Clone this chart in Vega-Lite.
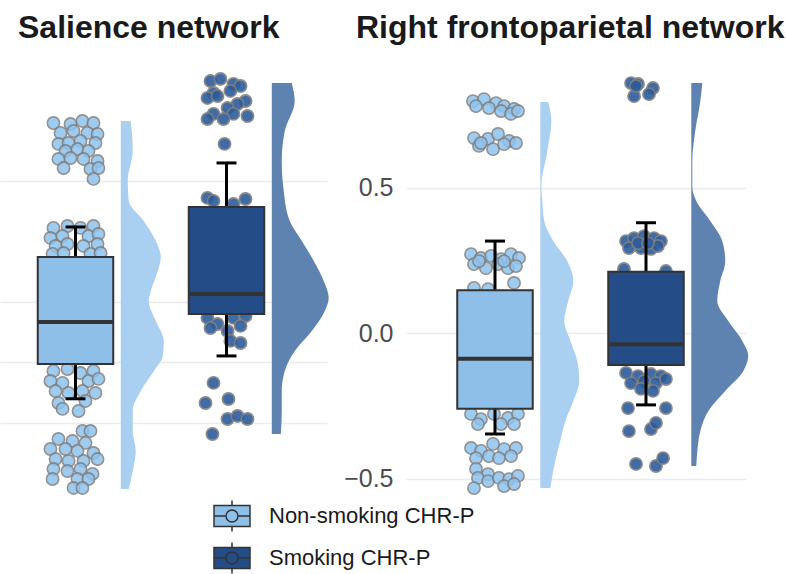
{
  "$schema": "https://vega.github.io/schema/vega-lite/v6.json",
  "background": "white",
  "padding": {"top": 12, "left": 0, "right": 0, "bottom": 0},
  "spacing": 14,
  "datasets": {
    "box": [
      {"n": "SN", "g": "Non-smoking CHR-P", "lo": -0.8, "q1": -0.512, "med": -0.165, "q3": 0.372, "hi": 0.62},
      {"n": "SN", "g": "Smoking CHR-P", "lo": -0.446, "q1": -0.099, "med": 0.066, "q3": 0.785, "hi": 1.149},
      {"n": "RF", "g": "Non-smoking CHR-P", "lo": -0.347, "q1": -0.26, "med": -0.088, "q3": 0.147, "hi": 0.316},
      {"n": "RF", "g": "Smoking CHR-P", "lo": -0.247, "q1": -0.11, "med": -0.039, "q3": 0.211, "hi": 0.379}
    ],
    "dens": [
      {"n":"SN","g":"N","v":1.496,"d":0.066},{"n":"SN","g":"N","v":1.248,"d":0.079},{"n":"SN","g":"N","v":1.0,"d":0.046},{"n":"SN","g":"N","v":0.835,"d":0.053},{"n":"SN","g":"N","v":0.669,"d":0.152},{"n":"SN","g":"N","v":0.504,"d":0.232},{"n":"SN","g":"N","v":0.372,"d":0.265},{"n":"SN","g":"N","v":0.256,"d":0.245},{"n":"SN","g":"N","v":0.091,"d":0.199},{"n":"SN","g":"N","v":0.008,"d":0.185},{"n":"SN","g":"N","v":-0.157,"d":0.232},{"n":"SN","g":"N","v":-0.322,"d":0.285},{"n":"SN","g":"N","v":-0.446,"d":0.278},{"n":"SN","g":"N","v":-0.57,"d":0.219},{"n":"SN","g":"N","v":-0.736,"d":0.132},{"n":"SN","g":"N","v":-0.901,"d":0.079},{"n":"SN","g":"N","v":-1.066,"d":0.079},{"n":"SN","g":"N","v":-1.231,"d":0.099},{"n":"SN","g":"N","v":-1.397,"d":0.079},{"n":"SN","g":"N","v":-1.545,"d":0.053},
      {"n":"SN","g":"S","v":1.81,"d":0.132},{"n":"SN","g":"S","v":1.661,"d":0.152},{"n":"SN","g":"S","v":1.413,"d":0.086},{"n":"SN","g":"S","v":1.165,"d":0.066},{"n":"SN","g":"S","v":0.917,"d":0.079},{"n":"SN","g":"S","v":0.669,"d":0.119},{"n":"SN","g":"S","v":0.504,"d":0.199},{"n":"SN","g":"S","v":0.339,"d":0.278},{"n":"SN","g":"S","v":0.174,"d":0.344},{"n":"SN","g":"S","v":0.033,"d":0.377},{"n":"SN","g":"S","v":-0.074,"d":0.351},{"n":"SN","g":"S","v":-0.24,"d":0.265},{"n":"SN","g":"S","v":-0.405,"d":0.152},{"n":"SN","g":"S","v":-0.57,"d":0.086},{"n":"SN","g":"S","v":-0.736,"d":0.066},{"n":"SN","g":"S","v":-0.901,"d":0.066},{"n":"SN","g":"S","v":-1.091,"d":0.06},
      {"n":"RF","g":"N","v":0.794,"d":0.053},{"n":"RF","g":"N","v":0.729,"d":0.073},{"n":"RF","g":"N","v":0.625,"d":0.046},{"n":"RF","g":"N","v":0.502,"d":0.007},{"n":"RF","g":"N","v":0.454,"d":0.013},{"n":"RF","g":"N","v":0.385,"d":0.026},{"n":"RF","g":"N","v":0.316,"d":0.086},{"n":"RF","g":"N","v":0.247,"d":0.179},{"n":"RF","g":"N","v":0.179,"d":0.219},{"n":"RF","g":"N","v":0.11,"d":0.185},{"n":"RF","g":"N","v":0.041,"d":0.159},{"n":"RF","g":"N","v":-0.027,"d":0.199},{"n":"RF","g":"N","v":-0.096,"d":0.245},{"n":"RF","g":"N","v":-0.165,"d":0.258},{"n":"RF","g":"N","v":-0.234,"d":0.219},{"n":"RF","g":"N","v":-0.302,"d":0.166},{"n":"RF","g":"N","v":-0.371,"d":0.132},{"n":"RF","g":"N","v":-0.44,"d":0.099},{"n":"RF","g":"N","v":-0.533,"d":0.066},
      {"n":"RF","g":"S","v":0.859,"d":0.073},{"n":"RF","g":"S","v":0.797,"d":0.06},{"n":"RF","g":"S","v":0.694,"d":0.026},{"n":"RF","g":"S","v":0.591,"d":0.007},{"n":"RF","g":"S","v":0.502,"d":0.007},{"n":"RF","g":"S","v":0.454,"d":0.033},{"n":"RF","g":"S","v":0.385,"d":0.126},{"n":"RF","g":"S","v":0.316,"d":0.205},{"n":"RF","g":"S","v":0.247,"d":0.225},{"n":"RF","g":"S","v":0.179,"d":0.192},{"n":"RF","g":"S","v":0.11,"d":0.172},{"n":"RF","g":"S","v":0.041,"d":0.245},{"n":"RF","g":"S","v":-0.027,"d":0.338},{"n":"RF","g":"S","v":-0.079,"d":0.377},{"n":"RF","g":"S","v":-0.131,"d":0.344},{"n":"RF","g":"S","v":-0.199,"d":0.225},{"n":"RF","g":"S","v":-0.268,"d":0.113},{"n":"RF","g":"S","v":-0.337,"d":0.06},{"n":"RF","g":"S","v":-0.405,"d":0.04},{"n":"RF","g":"S","v":-0.457,"d":0.033}
    ],
    "pts": [
      {"n":"SN","g":"N","j":-0.146,"v":1.479},{"n":"SN","g":"N","j":-0.033,"v":1.471},{"n":"SN","g":"N","j":0.046,"v":1.496},{"n":"SN","g":"N","j":0.119,"v":1.479},{"n":"SN","g":"N","j":-0.099,"v":1.397},{"n":"SN","g":"N","j":-0.013,"v":1.413},{"n":"SN","g":"N","j":0.079,"v":1.397},{"n":"SN","g":"N","j":0.146,"v":1.388},{"n":"SN","g":"N","j":-0.113,"v":1.306},{"n":"SN","g":"N","j":-0.046,"v":1.314},{"n":"SN","g":"N","j":0.033,"v":1.331},{"n":"SN","g":"N","j":0.132,"v":1.314},{"n":"SN","g":"N","j":-0.066,"v":1.248},{"n":"SN","g":"N","j":0.013,"v":1.264},{"n":"SN","g":"N","j":0.086,"v":1.248},{"n":"SN","g":"N","j":-0.113,"v":1.182},{"n":"SN","g":"N","j":-0.033,"v":1.19},{"n":"SN","g":"N","j":0.053,"v":1.182},{"n":"SN","g":"N","j":0.146,"v":1.165},{"n":"SN","g":"N","j":-0.079,"v":1.107},{"n":"SN","g":"N","j":0.099,"v":1.099},{"n":"SN","g":"N","j":0.152,"v":1.107},{"n":"SN","g":"N","j":0.119,"v":1.017},
      {"n":"SN","g":"N","j":-0.146,"v":0.612},{"n":"SN","g":"N","j":-0.053,"v":0.628},{"n":"SN","g":"N","j":0.033,"v":0.612},{"n":"SN","g":"N","j":0.119,"v":0.628},{"n":"SN","g":"N","j":-0.166,"v":0.529},{"n":"SN","g":"N","j":-0.086,"v":0.545},{"n":"SN","g":"N","j":0.086,"v":0.545},{"n":"SN","g":"N","j":0.152,"v":0.562},{"n":"SN","g":"N","j":-0.132,"v":0.463},{"n":"SN","g":"N","j":-0.053,"v":0.479},{"n":"SN","g":"N","j":0.053,"v":0.463},{"n":"SN","g":"N","j":0.146,"v":0.479},{"n":"SN","g":"N","j":-0.152,"v":0.397},{"n":"SN","g":"N","j":-0.079,"v":0.405},{"n":"SN","g":"N","j":0.099,"v":0.397},{"n":"SN","g":"N","j":0.166,"v":0.405},
      {"n":"SN","g":"N","j":-0.1,"v":0.25},{"n":"SN","g":"N","j":0.05,"v":0.1},{"n":"SN","g":"N","j":0.12,"v":-0.05},{"n":"SN","g":"N","j":-0.06,"v":-0.2},{"n":"SN","g":"N","j":0.08,"v":-0.35},{"n":"SN","g":"N","j":-0.13,"v":-0.45},
      {"n":"SN","g":"N","j":-0.146,"v":-0.57},{"n":"SN","g":"N","j":-0.053,"v":-0.554},{"n":"SN","g":"N","j":0.033,"v":-0.587},{"n":"SN","g":"N","j":0.119,"v":-0.57},{"n":"SN","g":"N","j":-0.166,"v":-0.653},{"n":"SN","g":"N","j":-0.086,"v":-0.669},{"n":"SN","g":"N","j":0.086,"v":-0.653},{"n":"SN","g":"N","j":0.152,"v":-0.636},{"n":"SN","g":"N","j":-0.132,"v":-0.736},{"n":"SN","g":"N","j":-0.046,"v":-0.752},{"n":"SN","g":"N","j":0.046,"v":-0.736},{"n":"SN","g":"N","j":0.132,"v":-0.752},{"n":"SN","g":"N","j":-0.113,"v":-0.835},{"n":"SN","g":"N","j":0.066,"v":-0.818},{"n":"SN","g":"N","j":-0.086,"v":-0.884},{"n":"SN","g":"N","j":0.02,"v":-0.901},
      {"n":"SN","g":"N","j":0.046,"v":-1.066},{"n":"SN","g":"N","j":0.099,"v":-1.066},{"n":"SN","g":"N","j":-0.113,"v":-1.132},{"n":"SN","g":"N","j":-0.02,"v":-1.149},{"n":"SN","g":"N","j":0.066,"v":-1.165},{"n":"SN","g":"N","j":-0.166,"v":-1.215},{"n":"SN","g":"N","j":-0.066,"v":-1.215},{"n":"SN","g":"N","j":0.013,"v":-1.231},{"n":"SN","g":"N","j":0.119,"v":-1.248},{"n":"SN","g":"N","j":-0.132,"v":-1.298},{"n":"SN","g":"N","j":-0.046,"v":-1.314},{"n":"SN","g":"N","j":0.053,"v":-1.314},{"n":"SN","g":"N","j":0.146,"v":-1.298},{"n":"SN","g":"N","j":-0.146,"v":-1.38},{"n":"SN","g":"N","j":-0.053,"v":-1.397},{"n":"SN","g":"N","j":0.033,"v":-1.38},{"n":"SN","g":"N","j":0.113,"v":-1.421},{"n":"SN","g":"N","j":-0.152,"v":-1.463},{"n":"SN","g":"N","j":0.013,"v":-1.463},{"n":"SN","g":"N","j":0.086,"v":-1.463},{"n":"SN","g":"N","j":-0.013,"v":-1.537},{"n":"SN","g":"N","j":0.046,"v":-1.537},
      {"n":"SN","g":"S","j":-0.106,"v":1.826},{"n":"SN","g":"S","j":-0.04,"v":1.843},{"n":"SN","g":"S","j":0.046,"v":1.802},{"n":"SN","g":"S","j":0.093,"v":1.785},{"n":"SN","g":"S","j":-0.086,"v":1.727},{"n":"SN","g":"S","j":0.026,"v":1.744},{"n":"SN","g":"S","j":-0.126,"v":1.686},{"n":"SN","g":"S","j":-0.06,"v":1.702},{"n":"SN","g":"S","j":0.126,"v":1.661},{"n":"SN","g":"S","j":0.073,"v":1.636},{"n":"SN","g":"S","j":0.007,"v":1.603},{"n":"SN","g":"S","j":-0.086,"v":1.554},{"n":"SN","g":"S","j":0.046,"v":1.554},{"n":"SN","g":"S","j":0.139,"v":1.537},{"n":"SN","g":"S","j":-0.126,"v":1.512},{"n":"SN","g":"S","j":-0.02,"v":1.512},
      {"n":"SN","g":"S","j":-0.013,"v":1.306},
      {"n":"SN","g":"S","j":-0.126,"v":0.86},{"n":"SN","g":"S","j":-0.086,"v":0.835},{"n":"SN","g":"S","j":0.126,"v":0.851},{"n":"SN","g":"S","j":0.046,"v":0.81},
      {"n":"SN","g":"S","j":-0.05,"v":0.6},{"n":"SN","g":"S","j":0.1,"v":0.4},{"n":"SN","g":"S","j":-0.12,"v":0.2},{"n":"SN","g":"S","j":0.03,"v":0.0},
      {"n":"SN","g":"S","j":-0.126,"v":-0.132},{"n":"SN","g":"S","j":-0.06,"v":-0.182},{"n":"SN","g":"S","j":0.046,"v":-0.132},{"n":"SN","g":"S","j":0.126,"v":-0.116},{"n":"SN","g":"S","j":-0.106,"v":-0.215},{"n":"SN","g":"S","j":0.007,"v":-0.24},{"n":"SN","g":"S","j":0.093,"v":-0.198},{"n":"SN","g":"S","j":0.026,"v":-0.322},{"n":"SN","g":"S","j":0.093,"v":-0.339},
      {"n":"SN","g":"S","j":-0.086,"v":-0.669},{"n":"SN","g":"S","j":-0.139,"v":-0.835},{"n":"SN","g":"S","j":0.013,"v":-0.802},{"n":"SN","g":"S","j":0.007,"v":-0.967},{"n":"SN","g":"S","j":0.073,"v":-0.942},{"n":"SN","g":"S","j":0.139,"v":-0.967},{"n":"SN","g":"S","j":-0.093,"v":-1.091},
      {"n":"RF","g":"N","j":-0.146,"v":0.797},{"n":"RF","g":"N","j":-0.073,"v":0.804},{"n":"RF","g":"N","j":0.007,"v":0.79},{"n":"RF","g":"N","j":0.06,"v":0.78},{"n":"RF","g":"N","j":0.126,"v":0.77},{"n":"RF","g":"N","j":-0.126,"v":0.78},{"n":"RF","g":"N","j":-0.04,"v":0.773},{"n":"RF","g":"N","j":0.04,"v":0.763},{"n":"RF","g":"N","j":0.106,"v":0.753},{"n":"RF","g":"N","j":0.152,"v":0.763},
      {"n":"RF","g":"N","j":-0.139,"v":0.67},{"n":"RF","g":"N","j":-0.046,"v":0.667},{"n":"RF","g":"N","j":0.02,"v":0.684},{"n":"RF","g":"N","j":0.093,"v":0.66},{"n":"RF","g":"N","j":0.139,"v":0.653},{"n":"RF","g":"N","j":-0.106,"v":0.643},{"n":"RF","g":"N","j":-0.013,"v":0.632},{"n":"RF","g":"N","j":0.06,"v":0.649},{"n":"RF","g":"N","j":-0.093,"v":0.653},
      {"n":"RF","g":"N","j":-0.159,"v":0.271},{"n":"RF","g":"N","j":-0.093,"v":0.258},{"n":"RF","g":"N","j":-0.026,"v":0.265},{"n":"RF","g":"N","j":0.04,"v":0.254},{"n":"RF","g":"N","j":0.106,"v":0.271},{"n":"RF","g":"N","j":0.159,"v":0.258},{"n":"RF","g":"N","j":-0.139,"v":0.237},{"n":"RF","g":"N","j":-0.06,"v":0.223},{"n":"RF","g":"N","j":0.02,"v":0.237},{"n":"RF","g":"N","j":0.086,"v":0.223},{"n":"RF","g":"N","j":0.139,"v":0.23},{"n":"RF","g":"N","j":-0.106,"v":0.247},{"n":"RF","g":"N","j":0.06,"v":0.247},
      {"n":"RF","g":"N","j":-0.139,"v":0.155},{"n":"RF","g":"N","j":0.126,"v":0.172},{"n":"RF","g":"N","j":-0.046,"v":0.151},
      {"n":"RF","g":"N","j":0.05,"v":0.05},{"n":"RF","g":"N","j":-0.1,"v":-0.1},{"n":"RF","g":"N","j":0.1,"v":-0.2},
      {"n":"RF","g":"N","j":-0.159,"v":-0.278},{"n":"RF","g":"N","j":-0.093,"v":-0.296},{"n":"RF","g":"N","j":-0.007,"v":-0.278},{"n":"RF","g":"N","j":0.086,"v":-0.292},{"n":"RF","g":"N","j":0.152,"v":-0.278},{"n":"RF","g":"N","j":-0.113,"v":-0.313},{"n":"RF","g":"N","j":0.04,"v":-0.313},{"n":"RF","g":"N","j":0.126,"v":-0.313},
      {"n":"RF","g":"N","j":-0.159,"v":-0.395},{"n":"RF","g":"N","j":-0.093,"v":-0.405},{"n":"RF","g":"N","j":-0.013,"v":-0.381},{"n":"RF","g":"N","j":0.06,"v":-0.399},{"n":"RF","g":"N","j":0.139,"v":-0.395},{"n":"RF","g":"N","j":-0.126,"v":-0.43},{"n":"RF","g":"N","j":-0.04,"v":-0.423},{"n":"RF","g":"N","j":0.026,"v":-0.43},{"n":"RF","g":"N","j":0.106,"v":-0.423},
      {"n":"RF","g":"N","j":-0.126,"v":-0.467},{"n":"RF","g":"N","j":-0.046,"v":-0.485},
      {"n":"RF","g":"N","j":-0.113,"v":-0.498},{"n":"RF","g":"N","j":-0.046,"v":-0.509},{"n":"RF","g":"N","j":0.026,"v":-0.498},{"n":"RF","g":"N","j":0.093,"v":-0.502},{"n":"RF","g":"N","j":0.152,"v":-0.491},{"n":"RF","g":"N","j":-0.139,"v":-0.533},{"n":"RF","g":"N","j":0.06,"v":-0.526},{"n":"RF","g":"N","j":0.126,"v":-0.519},
      {"n":"RF","g":"S","j":-0.099,"v":0.859},{"n":"RF","g":"S","j":-0.053,"v":0.856},{"n":"RF","g":"S","j":0.046,"v":0.842},{"n":"RF","g":"S","j":-0.079,"v":0.814},{"n":"RF","g":"S","j":0.02,"v":0.821},{"n":"RF","g":"S","j":-0.066,"v":0.849},
      {"n":"RF","g":"S","j":-0.132,"v":0.316},{"n":"RF","g":"S","j":-0.079,"v":0.326},{"n":"RF","g":"S","j":-0.013,"v":0.333},{"n":"RF","g":"S","j":0.053,"v":0.326},{"n":"RF","g":"S","j":0.099,"v":0.316},{"n":"RF","g":"S","j":-0.113,"v":0.292},{"n":"RF","g":"S","j":-0.033,"v":0.292},{"n":"RF","g":"S","j":0.033,"v":0.289},{"n":"RF","g":"S","j":0.079,"v":0.299},{"n":"RF","g":"S","j":-0.053,"v":0.309},{"n":"RF","g":"S","j":0.013,"v":0.309},
      {"n":"RF","g":"S","j":-0.146,"v":0.22},{"n":"RF","g":"S","j":0.132,"v":0.213},
      {"n":"RF","g":"S","j":0.0,"v":0.1},{"n":"RF","g":"S","j":-0.08,"v":0.0},{"n":"RF","g":"S","j":0.07,"v":-0.05},
      {"n":"RF","g":"S","j":-0.132,"v":-0.137},{"n":"RF","g":"S","j":-0.053,"v":-0.148},{"n":"RF","g":"S","j":0.033,"v":-0.141},{"n":"RF","g":"S","j":0.099,"v":-0.148},{"n":"RF","g":"S","j":-0.099,"v":-0.172},{"n":"RF","g":"S","j":-0.013,"v":-0.165},{"n":"RF","g":"S","j":0.066,"v":-0.172},{"n":"RF","g":"S","j":0.132,"v":-0.158},{"n":"RF","g":"S","j":-0.033,"v":-0.192},{"n":"RF","g":"S","j":0.046,"v":-0.199},
      {"n":"RF","g":"S","j":-0.119,"v":-0.258},{"n":"RF","g":"S","j":0.132,"v":-0.258},
      {"n":"RF","g":"S","j":-0.113,"v":-0.337},{"n":"RF","g":"S","j":0.033,"v":-0.33},{"n":"RF","g":"S","j":0.066,"v":-0.309},
      {"n":"RF","g":"S","j":-0.066,"v":-0.45},{"n":"RF","g":"S","j":0.066,"v":-0.457},{"n":"RF","g":"S","j":0.113,"v":-0.43}
    ]
  },
  "hconcat": [
    {
      "title": {"text": "Salience network", "dx": 18},
      "width": 327,
      "height": 435,
      "resolve": {"scale": {"x": "independent"}},
      "layer": [
        {
          "data": {"name": "dens"},
          "transform": [{"filter": "datum.n == 'SN' && datum.g == 'N'"}],
          "mark": {"type": "area", "orient": "horizontal", "interpolate": "monotone", "color": "#A9CFF1"},
          "encoding": {
            "x": {"field": "d", "type": "quantitative", "stack": null, "scale": {"domain": [-0.8, 1.3656], "nice": false, "zero": false}, "axis": null},
            "x2": {"datum": 0},
            "y": {"field": "v", "type": "quantitative", "scale": {"domain": [-1.62, 1.975], "nice": false, "zero": false}, "axis": {"values": [-1, -0.5, 0, 1], "labels": false}, "title": null}
          }
        },
        {
          "data": {"name": "dens"},
          "transform": [{"filter": "datum.n == 'SN' && datum.g == 'S'"}],
          "mark": {"type": "area", "orient": "horizontal", "interpolate": "monotone", "color": "#5F83B0"},
          "encoding": {
            "x": {"field": "d", "type": "quantitative", "stack": null, "scale": {"domain": [-1.8, 0.3656], "nice": false, "zero": false}, "axis": null},
            "x2": {"datum": 0},
            "y": {"field": "v", "type": "quantitative", "scale": {"domain": [-1.62, 1.975], "nice": false, "zero": false}, "axis": {"values": [-1, -0.5, 0, 1], "labels": false}, "title": null}
          }
        },
        {
          "layer": [
            {
              "data": {"name": "pts"},
              "transform": [{"filter": "datum.n == 'SN' && datum.g == 'N'"}],
              "mark": {"type": "circle", "size": 150, "fill": "#8EC2EE", "stroke": "#7F7F7F", "strokeWidth": 1.6, "opacity": 0.85},
              "encoding": {
                "x": {"field": "j", "type": "quantitative", "scale": {"domain": [-0.5, 1.6656], "nice": false, "zero": false}, "axis": null},
                "y": {"field": "v", "type": "quantitative", "scale": {"domain": [-1.62, 1.975], "nice": false, "zero": false}, "axis": {"values": [-1, -0.5, 0, 1], "labels": false}, "title": null}
              }
            },
            {
              "data": {"name": "box"},
              "transform": [{"filter": "datum.n == 'SN' && datum.g == 'Non-smoking CHR-P'"}],
              "layer": [
                {
                  "mark": {"type": "rule", "color": "#000000", "strokeWidth": 3},
                  "encoding": {
                    "x": {"datum": 0, "type": "quantitative", "scale": {"domain": [-0.5, 1.6656], "nice": false, "zero": false}, "axis": null},
                    "y": {"field": "lo", "type": "quantitative", "scale": {"domain": [-1.62, 1.975], "nice": false, "zero": false}, "axis": {"values": [-1, -0.5, 0, 1], "labels": false}, "title": null},
                    "y2": {"field": "hi"}
                  }
                },
                {
                  "mark": {"type": "rect", "stroke": "#333333", "strokeWidth": 2},
                  "encoding": {
                    "x": {"datum": -0.25, "type": "quantitative", "scale": {"domain": [-0.5, 1.6656], "nice": false, "zero": false}, "axis": null},
                    "x2": {"datum": 0.25},
                    "y": {"field": "q1", "type": "quantitative", "scale": {"domain": [-1.62, 1.975], "nice": false, "zero": false}, "axis": {"values": [-1, -0.5, 0, 1], "labels": false}, "title": null},
                    "y2": {"field": "q3"},
                    "color": {"field": "g", "type": "nominal", "scale": {"domain": ["Non-smoking CHR-P", "Smoking CHR-P"], "range": ["#8EBFE9", "#244C86"]}, "legend": {"orient": "none", "legendX": 216, "legendY": 437, "direction": "vertical", "title": null}}
                  }
                },
                {
                  "mark": {"type": "rule", "color": "#333333", "strokeWidth": 4},
                  "encoding": {
                    "x": {"datum": -0.25, "type": "quantitative", "scale": {"domain": [-0.5, 1.6656], "nice": false, "zero": false}, "axis": null},
                    "x2": {"datum": 0.25},
                    "y": {"field": "med", "type": "quantitative", "scale": {"domain": [-1.62, 1.975], "nice": false, "zero": false}, "axis": {"values": [-1, -0.5, 0, 1], "labels": false}, "title": null}
                  }
                },
                {
                  "mark": {"type": "rule", "color": "#000000", "strokeWidth": 3},
                  "encoding": {
                    "x": {"datum": -0.066, "type": "quantitative", "scale": {"domain": [-0.5, 1.6656], "nice": false, "zero": false}, "axis": null},
                    "x2": {"datum": 0.066},
                    "y": {"field": "lo", "type": "quantitative", "scale": {"domain": [-1.62, 1.975], "nice": false, "zero": false}, "axis": {"values": [-1, -0.5, 0, 1], "labels": false}, "title": null}
                  }
                },
                {
                  "mark": {"type": "rule", "color": "#000000", "strokeWidth": 3},
                  "encoding": {
                    "x": {"datum": -0.066, "type": "quantitative", "scale": {"domain": [-0.5, 1.6656], "nice": false, "zero": false}, "axis": null},
                    "x2": {"datum": 0.066},
                    "y": {"field": "hi", "type": "quantitative", "scale": {"domain": [-1.62, 1.975], "nice": false, "zero": false}, "axis": {"values": [-1, -0.5, 0, 1], "labels": false}, "title": null}
                  }
                }
              ]
            }
          ]
        },
        {
          "layer": [
            {
              "data": {"name": "pts"},
              "transform": [{"filter": "datum.n == 'SN' && datum.g == 'S'"}],
              "mark": {"type": "circle", "size": 150, "fill": "#2C5B9B", "stroke": "#7F7F7F", "strokeWidth": 1.6, "opacity": 0.9},
              "encoding": {
                "x": {"field": "j", "type": "quantitative", "scale": {"domain": [-1.5, 0.6656], "nice": false, "zero": false}, "axis": null},
                "y": {"field": "v", "type": "quantitative", "scale": {"domain": [-1.62, 1.975], "nice": false, "zero": false}, "axis": {"values": [-1, -0.5, 0, 1], "labels": false}, "title": null}
              }
            },
            {
              "data": {"name": "box"},
              "transform": [{"filter": "datum.n == 'SN' && datum.g == 'Smoking CHR-P'"}],
              "layer": [
                {
                  "mark": {"type": "rule", "color": "#000000", "strokeWidth": 3},
                  "encoding": {
                    "x": {"datum": 0, "type": "quantitative", "scale": {"domain": [-1.5, 0.6656], "nice": false, "zero": false}, "axis": null},
                    "y": {"field": "lo", "type": "quantitative", "scale": {"domain": [-1.62, 1.975], "nice": false, "zero": false}, "axis": {"values": [-1, -0.5, 0, 1], "labels": false}, "title": null},
                    "y2": {"field": "hi"}
                  }
                },
                {
                  "mark": {"type": "rect", "stroke": "#333333", "strokeWidth": 2},
                  "encoding": {
                    "x": {"datum": -0.25, "type": "quantitative", "scale": {"domain": [-1.5, 0.6656], "nice": false, "zero": false}, "axis": null},
                    "x2": {"datum": 0.25},
                    "y": {"field": "q1", "type": "quantitative", "scale": {"domain": [-1.62, 1.975], "nice": false, "zero": false}, "axis": {"values": [-1, -0.5, 0, 1], "labels": false}, "title": null},
                    "y2": {"field": "q3"},
                    "color": {"field": "g", "type": "nominal", "scale": {"domain": ["Non-smoking CHR-P", "Smoking CHR-P"], "range": ["#8EBFE9", "#244C86"]}, "legend": {"orient": "none", "legendX": 216, "legendY": 437, "direction": "vertical", "title": null}}
                  }
                },
                {
                  "mark": {"type": "rule", "color": "#333333", "strokeWidth": 4},
                  "encoding": {
                    "x": {"datum": -0.25, "type": "quantitative", "scale": {"domain": [-1.5, 0.6656], "nice": false, "zero": false}, "axis": null},
                    "x2": {"datum": 0.25},
                    "y": {"field": "med", "type": "quantitative", "scale": {"domain": [-1.62, 1.975], "nice": false, "zero": false}, "axis": {"values": [-1, -0.5, 0, 1], "labels": false}, "title": null}
                  }
                },
                {
                  "mark": {"type": "rule", "color": "#000000", "strokeWidth": 3},
                  "encoding": {
                    "x": {"datum": -0.066, "type": "quantitative", "scale": {"domain": [-1.5, 0.6656], "nice": false, "zero": false}, "axis": null},
                    "x2": {"datum": 0.066},
                    "y": {"field": "lo", "type": "quantitative", "scale": {"domain": [-1.62, 1.975], "nice": false, "zero": false}, "axis": {"values": [-1, -0.5, 0, 1], "labels": false}, "title": null}
                  }
                },
                {
                  "mark": {"type": "rule", "color": "#000000", "strokeWidth": 3},
                  "encoding": {
                    "x": {"datum": -0.066, "type": "quantitative", "scale": {"domain": [-1.5, 0.6656], "nice": false, "zero": false}, "axis": null},
                    "x2": {"datum": 0.066},
                    "y": {"field": "hi", "type": "quantitative", "scale": {"domain": [-1.62, 1.975], "nice": false, "zero": false}, "axis": {"values": [-1, -0.5, 0, 1], "labels": false}, "title": null}
                  }
                }
              ]
            }
          ]
        }
      ]
    },
    {
      "title": {"text": "Right frontoparietal network", "dx": -50},
      "width": 340,
      "height": 435,
      "resolve": {"scale": {"x": "independent"}},
      "layer": [
        {
          "data": {"name": "dens"},
          "transform": [{"filter": "datum.n == 'RF' && datum.g == 'N'"}],
          "mark": {"type": "area", "orient": "horizontal", "interpolate": "monotone", "color": "#A9CFF1"},
          "encoding": {
            "x": {"field": "d", "type": "quantitative", "stack": null, "scale": {"domain": [-0.8894, 1.3623], "nice": false, "zero": false}, "axis": null},
            "x2": {"datum": 0},
            "y": {"field": "v", "type": "quantitative", "scale": {"domain": [-0.567, 0.928], "nice": false, "zero": false}, "axis": {"values": [-0.5, 0, 0.5], "format": ".1f"}, "title": null}
          }
        },
        {
          "data": {"name": "dens"},
          "transform": [{"filter": "datum.n == 'RF' && datum.g == 'S'"}],
          "mark": {"type": "area", "orient": "horizontal", "interpolate": "monotone", "color": "#5F83B0"},
          "encoding": {
            "x": {"field": "d", "type": "quantitative", "stack": null, "scale": {"domain": [-1.8894, 0.3623], "nice": false, "zero": false}, "axis": null},
            "x2": {"datum": 0},
            "y": {"field": "v", "type": "quantitative", "scale": {"domain": [-0.567, 0.928], "nice": false, "zero": false}, "axis": {"values": [-0.5, 0, 0.5], "format": ".1f"}, "title": null}
          }
        },
        {
          "layer": [
            {
              "data": {"name": "pts"},
              "transform": [{"filter": "datum.n == 'RF' && datum.g == 'N'"}],
              "mark": {"type": "circle", "size": 150, "fill": "#8EC2EE", "stroke": "#7F7F7F", "strokeWidth": 1.6, "opacity": 0.85},
              "encoding": {
                "x": {"field": "j", "type": "quantitative", "scale": {"domain": [-0.5894, 1.6623], "nice": false, "zero": false}, "axis": null},
                "y": {"field": "v", "type": "quantitative", "scale": {"domain": [-0.567, 0.928], "nice": false, "zero": false}, "axis": {"values": [-0.5, 0, 0.5], "format": ".1f"}, "title": null}
              }
            },
            {
              "data": {"name": "box"},
              "transform": [{"filter": "datum.n == 'RF' && datum.g == 'Non-smoking CHR-P'"}],
              "layer": [
                {
                  "mark": {"type": "rule", "color": "#000000", "strokeWidth": 3},
                  "encoding": {
                    "x": {"datum": 0, "type": "quantitative", "scale": {"domain": [-0.5894, 1.6623], "nice": false, "zero": false}, "axis": null},
                    "y": {"field": "lo", "type": "quantitative", "scale": {"domain": [-0.567, 0.928], "nice": false, "zero": false}, "axis": {"values": [-0.5, 0, 0.5], "format": ".1f"}, "title": null},
                    "y2": {"field": "hi"}
                  }
                },
                {
                  "mark": {"type": "rect", "stroke": "#333333", "strokeWidth": 2},
                  "encoding": {
                    "x": {"datum": -0.25, "type": "quantitative", "scale": {"domain": [-0.5894, 1.6623], "nice": false, "zero": false}, "axis": null},
                    "x2": {"datum": 0.25},
                    "y": {"field": "q1", "type": "quantitative", "scale": {"domain": [-0.567, 0.928], "nice": false, "zero": false}, "axis": {"values": [-0.5, 0, 0.5], "format": ".1f"}, "title": null},
                    "y2": {"field": "q3"},
                    "color": {"field": "g", "type": "nominal", "scale": {"domain": ["Non-smoking CHR-P", "Smoking CHR-P"], "range": ["#8EBFE9", "#244C86"]}, "legend": {"orient": "none", "legendX": 216, "legendY": 437, "direction": "vertical", "title": null}}
                  }
                },
                {
                  "mark": {"type": "rule", "color": "#333333", "strokeWidth": 4},
                  "encoding": {
                    "x": {"datum": -0.25, "type": "quantitative", "scale": {"domain": [-0.5894, 1.6623], "nice": false, "zero": false}, "axis": null},
                    "x2": {"datum": 0.25},
                    "y": {"field": "med", "type": "quantitative", "scale": {"domain": [-0.567, 0.928], "nice": false, "zero": false}, "axis": {"values": [-0.5, 0, 0.5], "format": ".1f"}, "title": null}
                  }
                },
                {
                  "mark": {"type": "rule", "color": "#000000", "strokeWidth": 3},
                  "encoding": {
                    "x": {"datum": -0.066, "type": "quantitative", "scale": {"domain": [-0.5894, 1.6623], "nice": false, "zero": false}, "axis": null},
                    "x2": {"datum": 0.066},
                    "y": {"field": "lo", "type": "quantitative", "scale": {"domain": [-0.567, 0.928], "nice": false, "zero": false}, "axis": {"values": [-0.5, 0, 0.5], "format": ".1f"}, "title": null}
                  }
                },
                {
                  "mark": {"type": "rule", "color": "#000000", "strokeWidth": 3},
                  "encoding": {
                    "x": {"datum": -0.066, "type": "quantitative", "scale": {"domain": [-0.5894, 1.6623], "nice": false, "zero": false}, "axis": null},
                    "x2": {"datum": 0.066},
                    "y": {"field": "hi", "type": "quantitative", "scale": {"domain": [-0.567, 0.928], "nice": false, "zero": false}, "axis": {"values": [-0.5, 0, 0.5], "format": ".1f"}, "title": null}
                  }
                }
              ]
            }
          ]
        },
        {
          "layer": [
            {
              "data": {"name": "pts"},
              "transform": [{"filter": "datum.n == 'RF' && datum.g == 'S'"}],
              "mark": {"type": "circle", "size": 150, "fill": "#2C5B9B", "stroke": "#7F7F7F", "strokeWidth": 1.6, "opacity": 0.9},
              "encoding": {
                "x": {"field": "j", "type": "quantitative", "scale": {"domain": [-1.5894, 0.6623], "nice": false, "zero": false}, "axis": null},
                "y": {"field": "v", "type": "quantitative", "scale": {"domain": [-0.567, 0.928], "nice": false, "zero": false}, "axis": {"values": [-0.5, 0, 0.5], "format": ".1f"}, "title": null}
              }
            },
            {
              "data": {"name": "box"},
              "transform": [{"filter": "datum.n == 'RF' && datum.g == 'Smoking CHR-P'"}],
              "layer": [
                {
                  "mark": {"type": "rule", "color": "#000000", "strokeWidth": 3},
                  "encoding": {
                    "x": {"datum": 0, "type": "quantitative", "scale": {"domain": [-1.5894, 0.6623], "nice": false, "zero": false}, "axis": null},
                    "y": {"field": "lo", "type": "quantitative", "scale": {"domain": [-0.567, 0.928], "nice": false, "zero": false}, "axis": {"values": [-0.5, 0, 0.5], "format": ".1f"}, "title": null},
                    "y2": {"field": "hi"}
                  }
                },
                {
                  "mark": {"type": "rect", "stroke": "#333333", "strokeWidth": 2},
                  "encoding": {
                    "x": {"datum": -0.25, "type": "quantitative", "scale": {"domain": [-1.5894, 0.6623], "nice": false, "zero": false}, "axis": null},
                    "x2": {"datum": 0.25},
                    "y": {"field": "q1", "type": "quantitative", "scale": {"domain": [-0.567, 0.928], "nice": false, "zero": false}, "axis": {"values": [-0.5, 0, 0.5], "format": ".1f"}, "title": null},
                    "y2": {"field": "q3"},
                    "color": {"field": "g", "type": "nominal", "scale": {"domain": ["Non-smoking CHR-P", "Smoking CHR-P"], "range": ["#8EBFE9", "#244C86"]}, "legend": {"orient": "none", "legendX": 216, "legendY": 437, "direction": "vertical", "title": null}}
                  }
                },
                {
                  "mark": {"type": "rule", "color": "#333333", "strokeWidth": 4},
                  "encoding": {
                    "x": {"datum": -0.25, "type": "quantitative", "scale": {"domain": [-1.5894, 0.6623], "nice": false, "zero": false}, "axis": null},
                    "x2": {"datum": 0.25},
                    "y": {"field": "med", "type": "quantitative", "scale": {"domain": [-0.567, 0.928], "nice": false, "zero": false}, "axis": {"values": [-0.5, 0, 0.5], "format": ".1f"}, "title": null}
                  }
                },
                {
                  "mark": {"type": "rule", "color": "#000000", "strokeWidth": 3},
                  "encoding": {
                    "x": {"datum": -0.066, "type": "quantitative", "scale": {"domain": [-1.5894, 0.6623], "nice": false, "zero": false}, "axis": null},
                    "x2": {"datum": 0.066},
                    "y": {"field": "lo", "type": "quantitative", "scale": {"domain": [-0.567, 0.928], "nice": false, "zero": false}, "axis": {"values": [-0.5, 0, 0.5], "format": ".1f"}, "title": null}
                  }
                },
                {
                  "mark": {"type": "rule", "color": "#000000", "strokeWidth": 3},
                  "encoding": {
                    "x": {"datum": -0.066, "type": "quantitative", "scale": {"domain": [-1.5894, 0.6623], "nice": false, "zero": false}, "axis": null},
                    "x2": {"datum": 0.066},
                    "y": {"field": "hi", "type": "quantitative", "scale": {"domain": [-0.567, 0.928], "nice": false, "zero": false}, "axis": {"values": [-0.5, 0, 0.5], "format": ".1f"}, "title": null}
                  }
                }
              ]
            }
          ]
        }
      ]
    }
  ],
  "resolve": {"scale": {"x": "independent", "y": "independent", "color": "shared"}},
  "config": {
    "view": {"stroke": null},
    "font": "Liberation Sans",
    "title": {"font": "Liberation Sans", "fontSize": 32, "fontWeight": "bold", "color": "#1A1A1A", "anchor": "start", "frame": "group", "offset": 18},
    "axis": {"ticks": false, "domain": false, "grid": true, "gridColor": "#EBEBEB", "gridWidth": 1.5, "labelFont": "Liberation Sans", "labelFontSize": 25, "labelColor": "#4D4D4D", "labelPadding": 13},
    "legend": {
      "symbolType": "M-1.2,-0.7H1.2V0.7H-1.2Z M-1.2,0H-0.4 M0.4,0H1.2 M0,-0.7V-1.03 M0,0.7V1.03 M0.4,0A0.4,0.4,0,1,1,-0.4,0A0.4,0.4,0,1,1,0.4,0",
      "symbolSize": 900,
      "symbolStrokeColor": "#333333",
      "symbolStrokeWidth": 1.5,
      "symbolOpacity": 1,
      "labelFont": "Liberation Sans",
      "labelFontSize": 22,
      "labelColor": "#1A1A1A",
      "labelOffset": 21,
      "labelLimit": 0,
      "rowPadding": 4,
      "padding": 0
    }
  }
}
